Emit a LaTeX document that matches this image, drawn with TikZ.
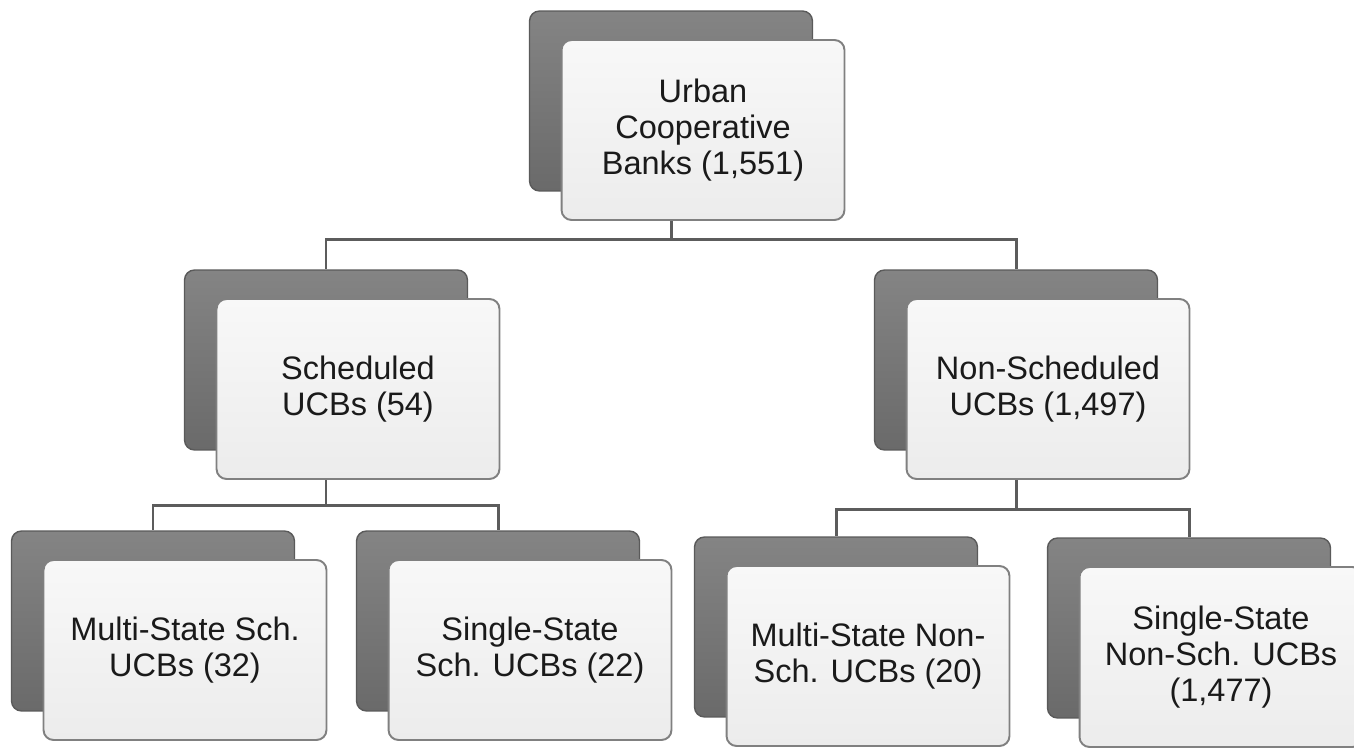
\documentclass[tikz,border=0pt]{standalone}
\usepackage{fontspec}
\setmainfont{Liberation Sans}
\usepackage{xcolor}
\usetikzlibrary{backgrounds}
\definecolor{cBack}{RGB}{106,106,106}
\definecolor{cBackTop}{RGB}{132,132,132}
\definecolor{cBackEdge}{RGB}{90,90,90}
\definecolor{cFront}{RGB}{236,236,236}
\definecolor{cFrontTop}{RGB}{248,248,248}
\definecolor{cFrontEdge}{RGB}{128,128,128}
\definecolor{cLink}{RGB}{92,92,92}
\definecolor{cText}{RGB}{26,26,26}

\begin{document}
\begin{tikzpicture}[x=0.02cm,y=-0.02cm,
  backbox/.style={rounded corners=0.2cm,draw=cBackEdge,line width=0.8pt,top color=cBackTop,bottom color=cBack,
    minimum width=5.66cm,minimum height=3.6cm,inner sep=0pt},
  frontbox/.style={rounded corners=0.2cm,draw=cFrontEdge,line width=1.1pt,top color=cFrontTop,bottom color=cFront,
    minimum width=5.66cm,minimum height=3.6cm,inner sep=0pt,align=center,text=cText,
    font=\fontsize{18.5}{20.5}\selectfont},
  link/.style={draw=cLink,line width=1.7pt}]
\useasboundingbox (0,0) rectangle (1354,749);
\node[backbox] (ucbbk) at (671,101) {};
\node[frontbox] (ucb) at ([shift={(32,29)}]ucbbk) {Urban\\Cooperative\\Banks (1,551)};
\node[backbox] (schbk) at (326,360) {};
\node[frontbox] (sch) at ([shift={(32,29)}]schbk) {Scheduled\\UCBs (54)};
\node[backbox] (nschbk) at (1016,360) {};
\node[frontbox] (nsch) at ([shift={(32,29)}]nschbk) {Non-Scheduled\\UCBs (1,497)};
\node[backbox] (mssbk) at (153,621) {};
\node[frontbox] (mss) at ([shift={(32,29)}]mssbk) {Multi-State Sch.\\UCBs (32)};
\node[backbox] (sssbk) at (498,621) {};
\node[frontbox] (sss) at ([shift={(32,29)}]sssbk) {Single-State\\Sch. UCBs (22)};
\node[backbox] (msnbk) at (836,627) {};
\node[frontbox] (msn) at ([shift={(32,29)}]msnbk) {Multi-State Non-\\Sch. UCBs (20)};
\node[backbox] (ssnbk) at (1189,628) {};
\node[frontbox] (ssn) at ([shift={(32,29)}]ssnbk) {Single-State\\Non-Sch. UCBs\\(1,477)};
\begin{scope}[on background layer]
\draw[link] (ucbbk.south) -- ++(0,48) -| (schbk.north);
\draw[link] (ucbbk.south) -- ++(0,48) -| (nschbk.north);
\draw[link] (schbk.south) -- ++(0,55) -| (mssbk.north);
\draw[link] (schbk.south) -- ++(0,55) -| (sssbk.north);
\draw[link] (nschbk.south) -- ++(0,59) -| (msnbk.north);
\draw[link] (nschbk.south) -- ++(0,59) -| (ssnbk.north);
\end{scope}
\end{tikzpicture}
\end{document}
